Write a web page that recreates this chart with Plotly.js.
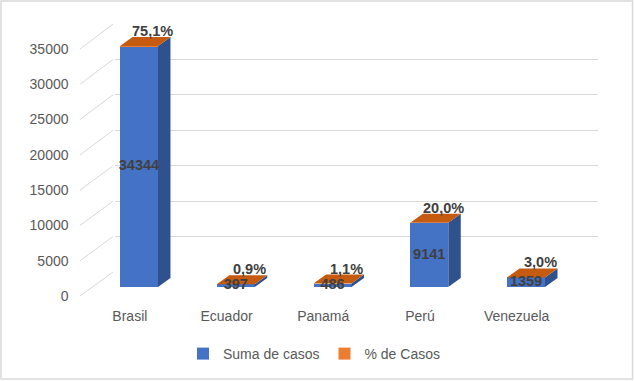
<!DOCTYPE html>
<html>
<head>
<meta charset="utf-8">
<script src="https://cdn.plot.ly/plotly-3.0.1.min.js"></script>
<style>html,body{margin:0;padding:0;background:#fff;}#chart{width:634px;height:381px;}</style>
</head>
<body>
<div id="chart"></div>
<script>
// ---- data ----
const categories = ['Brasil', 'Ecuador', 'Panamá', 'Perú', 'Venezuela'];
const sumaCasos = [34344, 397, 486, 9141, 1359];
const pctCasos = [75.1, 0.9, 1.1, 20.0, 3.0];
const yTickVals = [0, 5000, 10000, 15000, 20000, 25000, 30000, 35000];
const yTickText = ['0', '5000', '10000', '15000', '20000', '25000', '30000', '35000'];

// ---- geometry helpers (figure pixels -> paper fractions, margins are 0) ----
const W = 634, H = 381;
const fx = px => px / W;
const fy = py => 1 - py / H;

// front plane (labels), bar plane (bars), back wall (grid)
const FRONT = {x0: 81.5, x1: 565, y0: 296, yTop: 49};
const BACK = {dx: 33, dy: 24, yTop: 24};
const BAR = {x0: 90.6, x1: 574.4, y0: 287, pxPer35000: 245, yTopPx: 2};
const barRangeMax = (BAR.y0 - BAR.yTopPx) * 35000 / BAR.pxPer35000;
const slotPx = (BAR.x1 - BAR.x0) / 5;
const barWidth = 38 / slotPx;            // in category units
const depthX = 12.5 / slotPx;            // 3D depth, x units
const depthY = 9 * 35000 / BAR.pxPer35000; // 3D depth, y units

const idx = categories.map((c, i) => i);
const totals = sumaCasos.map((v, i) => v + pctCasos[i]);

// side faces & top faces polygons (computed from data)
const sideX = [], sideY = [], topX = [], topY = [];
idx.forEach(i => {
  const hw = barWidth / 2, t = totals[i];
  sideX.push(i + hw, i + hw, i + hw + depthX, i + hw + depthX, null);
  sideY.push(0, t, t + depthY, depthY, null);
  topX.push(i - hw, i + hw, i + hw + depthX, i - hw + depthX, null);
  topY.push(t, t, t + depthY, t + depthY, null);
});

const FONT = 'Liberation Sans, Arial, sans-serif';

const traces = [
  {type: 'bar', x: idx, y: sumaCasos, xaxis: 'x2', yaxis: 'y2', name: 'Suma de casos',
   width: barWidth, marker: {color: '#4472C4', line: {width: 0}}},
  {type: 'bar', x: idx, y: pctCasos, xaxis: 'x2', yaxis: 'y2', name: '% de Casos',
   width: barWidth, marker: {color: '#ED7D31', line: {width: 0}}},
  {type: 'scatter', x: sideX, y: sideY, xaxis: 'x2', yaxis: 'y2', mode: 'lines', fill: 'toself',
   fillcolor: '#2F528F', line: {width: 0, color: '#2F528F'}, showlegend: false, hoverinfo: 'skip'},
  {type: 'scatter', x: topX, y: topY, xaxis: 'x2', yaxis: 'y2', mode: 'lines', fill: 'toself',
   fillcolor: '#C55A11', line: {width: 0, color: '#C55A11'}, showlegend: false, hoverinfo: 'skip'},
  {type: 'scatter', x: idx, y: sumaCasos.map(v => v / 2), xaxis: 'x2', yaxis: 'y2', mode: 'text',
   text: sumaCasos.map(String), textposition: 'middle center', cliponaxis: false,
   textfont: {family: FONT, size: 14.5, color: '#404040', weight: 700}, showlegend: false, hoverinfo: 'skip'},
  // invisible anchors so that the back-wall and front-plane subplots are created
  {type: 'scatter', x: [0], y: [0], xaxis: 'x', yaxis: 'y', mode: 'markers',
   marker: {opacity: 0}, showlegend: false, hoverinfo: 'skip'},
  {type: 'scatter', x: [0], y: [0], xaxis: 'x3', yaxis: 'y3', mode: 'markers',
   marker: {opacity: 0}, showlegend: false, hoverinfo: 'skip'}
];

// left-wall diagonals
const shapes = [];
yTickVals.forEach(v => {
  const yf = FRONT.y0 - v * (FRONT.y0 - FRONT.yTop) / 35000;
  const yb = (FRONT.y0 - BACK.dy) - v * ((FRONT.y0 - BACK.dy) - BACK.yTop) / 35000;
  shapes.push({type: 'line', xref: 'paper', yref: 'paper', layer: 'below',
    x0: fx(80), y0: fy(yf), x1: fx(80 + BACK.dx), y1: fy(yb),
    line: {color: '#D9D9D9', width: 1}});
});
// chart border
shapes.push({type: 'rect', xref: 'paper', yref: 'paper', layer: 'above',
  x0: fx(1), x1: fx(632.5), y0: fy(379), y1: fy(1), line: {color: '#D9D9D9', width: 1.5}});

const annotations = idx.map(i => ({
  xref: 'x2', yref: 'y2', x: i, y: totals[i], xshift: 14, yshift: 15, showarrow: false,
  text: pctCasos[i].toFixed(1).replace('.', ',') + '%',
  font: {family: FONT, size: 14.5, color: '#404040', weight: 700}
}));

const layout = {
  width: W, height: H,
  margin: {l: 0, r: 0, t: 0, b: 0},
  paper_bgcolor: '#FFFFFF', plot_bgcolor: 'rgba(0,0,0,0)',
  font: {family: FONT, size: 14, color: '#595959'},
  barmode: 'stack',
  hovermode: false,
  showlegend: true,
  legend: {orientation: 'h', traceorder: 'normal', x: fx(314), xanchor: 'center', y: fy(354), yanchor: 'middle',
    font: {family: FONT, size: 14, color: '#595959'}, bgcolor: 'rgba(0,0,0,0)', itemwidth: 30},
  // back wall
  xaxis: {domain: [fx(FRONT.x0 + BACK.dx), fx(598)], range: [-0.5, 4.5], anchor: 'y',
    showgrid: false, zeroline: false, showticklabels: false, showline: false},
  yaxis: {domain: [fy(FRONT.y0 - BACK.dy), fy(BACK.yTop)], range: [-1, 35001], anchor: 'x',
    tickvals: yTickVals, showgrid: true, gridcolor: '#D9D9D9', gridwidth: 1,
    zeroline: false, showticklabels: false, showline: false},
  // bar plane
  xaxis2: {domain: [fx(BAR.x0), fx(BAR.x1)], range: [-0.5, 4.5], anchor: 'y2',
    showgrid: false, zeroline: false, showticklabels: false, showline: false},
  yaxis2: {domain: [fy(BAR.y0), fy(BAR.yTopPx)], range: [0, barRangeMax], anchor: 'x2',
    showgrid: false, zeroline: false, showticklabels: false, showline: false},
  // front plane (labels)
  xaxis3: {domain: [fx(FRONT.x0), fx(FRONT.x0 + 483.5)], range: [-0.5, 4.5], anchor: 'y3',
    tickvals: idx, ticktext: categories, showgrid: false, zeroline: false, showline: false,
    ticks: '', ticklabelstandoff: 10, tickfont: {family: FONT, size: 14, color: '#595959'}},
  yaxis3: {domain: [fy(FRONT.y0), fy(FRONT.yTop)], range: [0, 35000], anchor: 'x3',
    tickvals: yTickVals, ticktext: yTickText, showgrid: false, zeroline: false, showline: false,
    ticks: '', ticklabelstandoff: 12, tickfont: {family: FONT, size: 14, color: '#595959'}},
  shapes: shapes,
  annotations: annotations
};

Plotly.newPlot('chart', traces, layout, {staticPlot: true, displayModeBar: false});
</script>
</body>
</html>
